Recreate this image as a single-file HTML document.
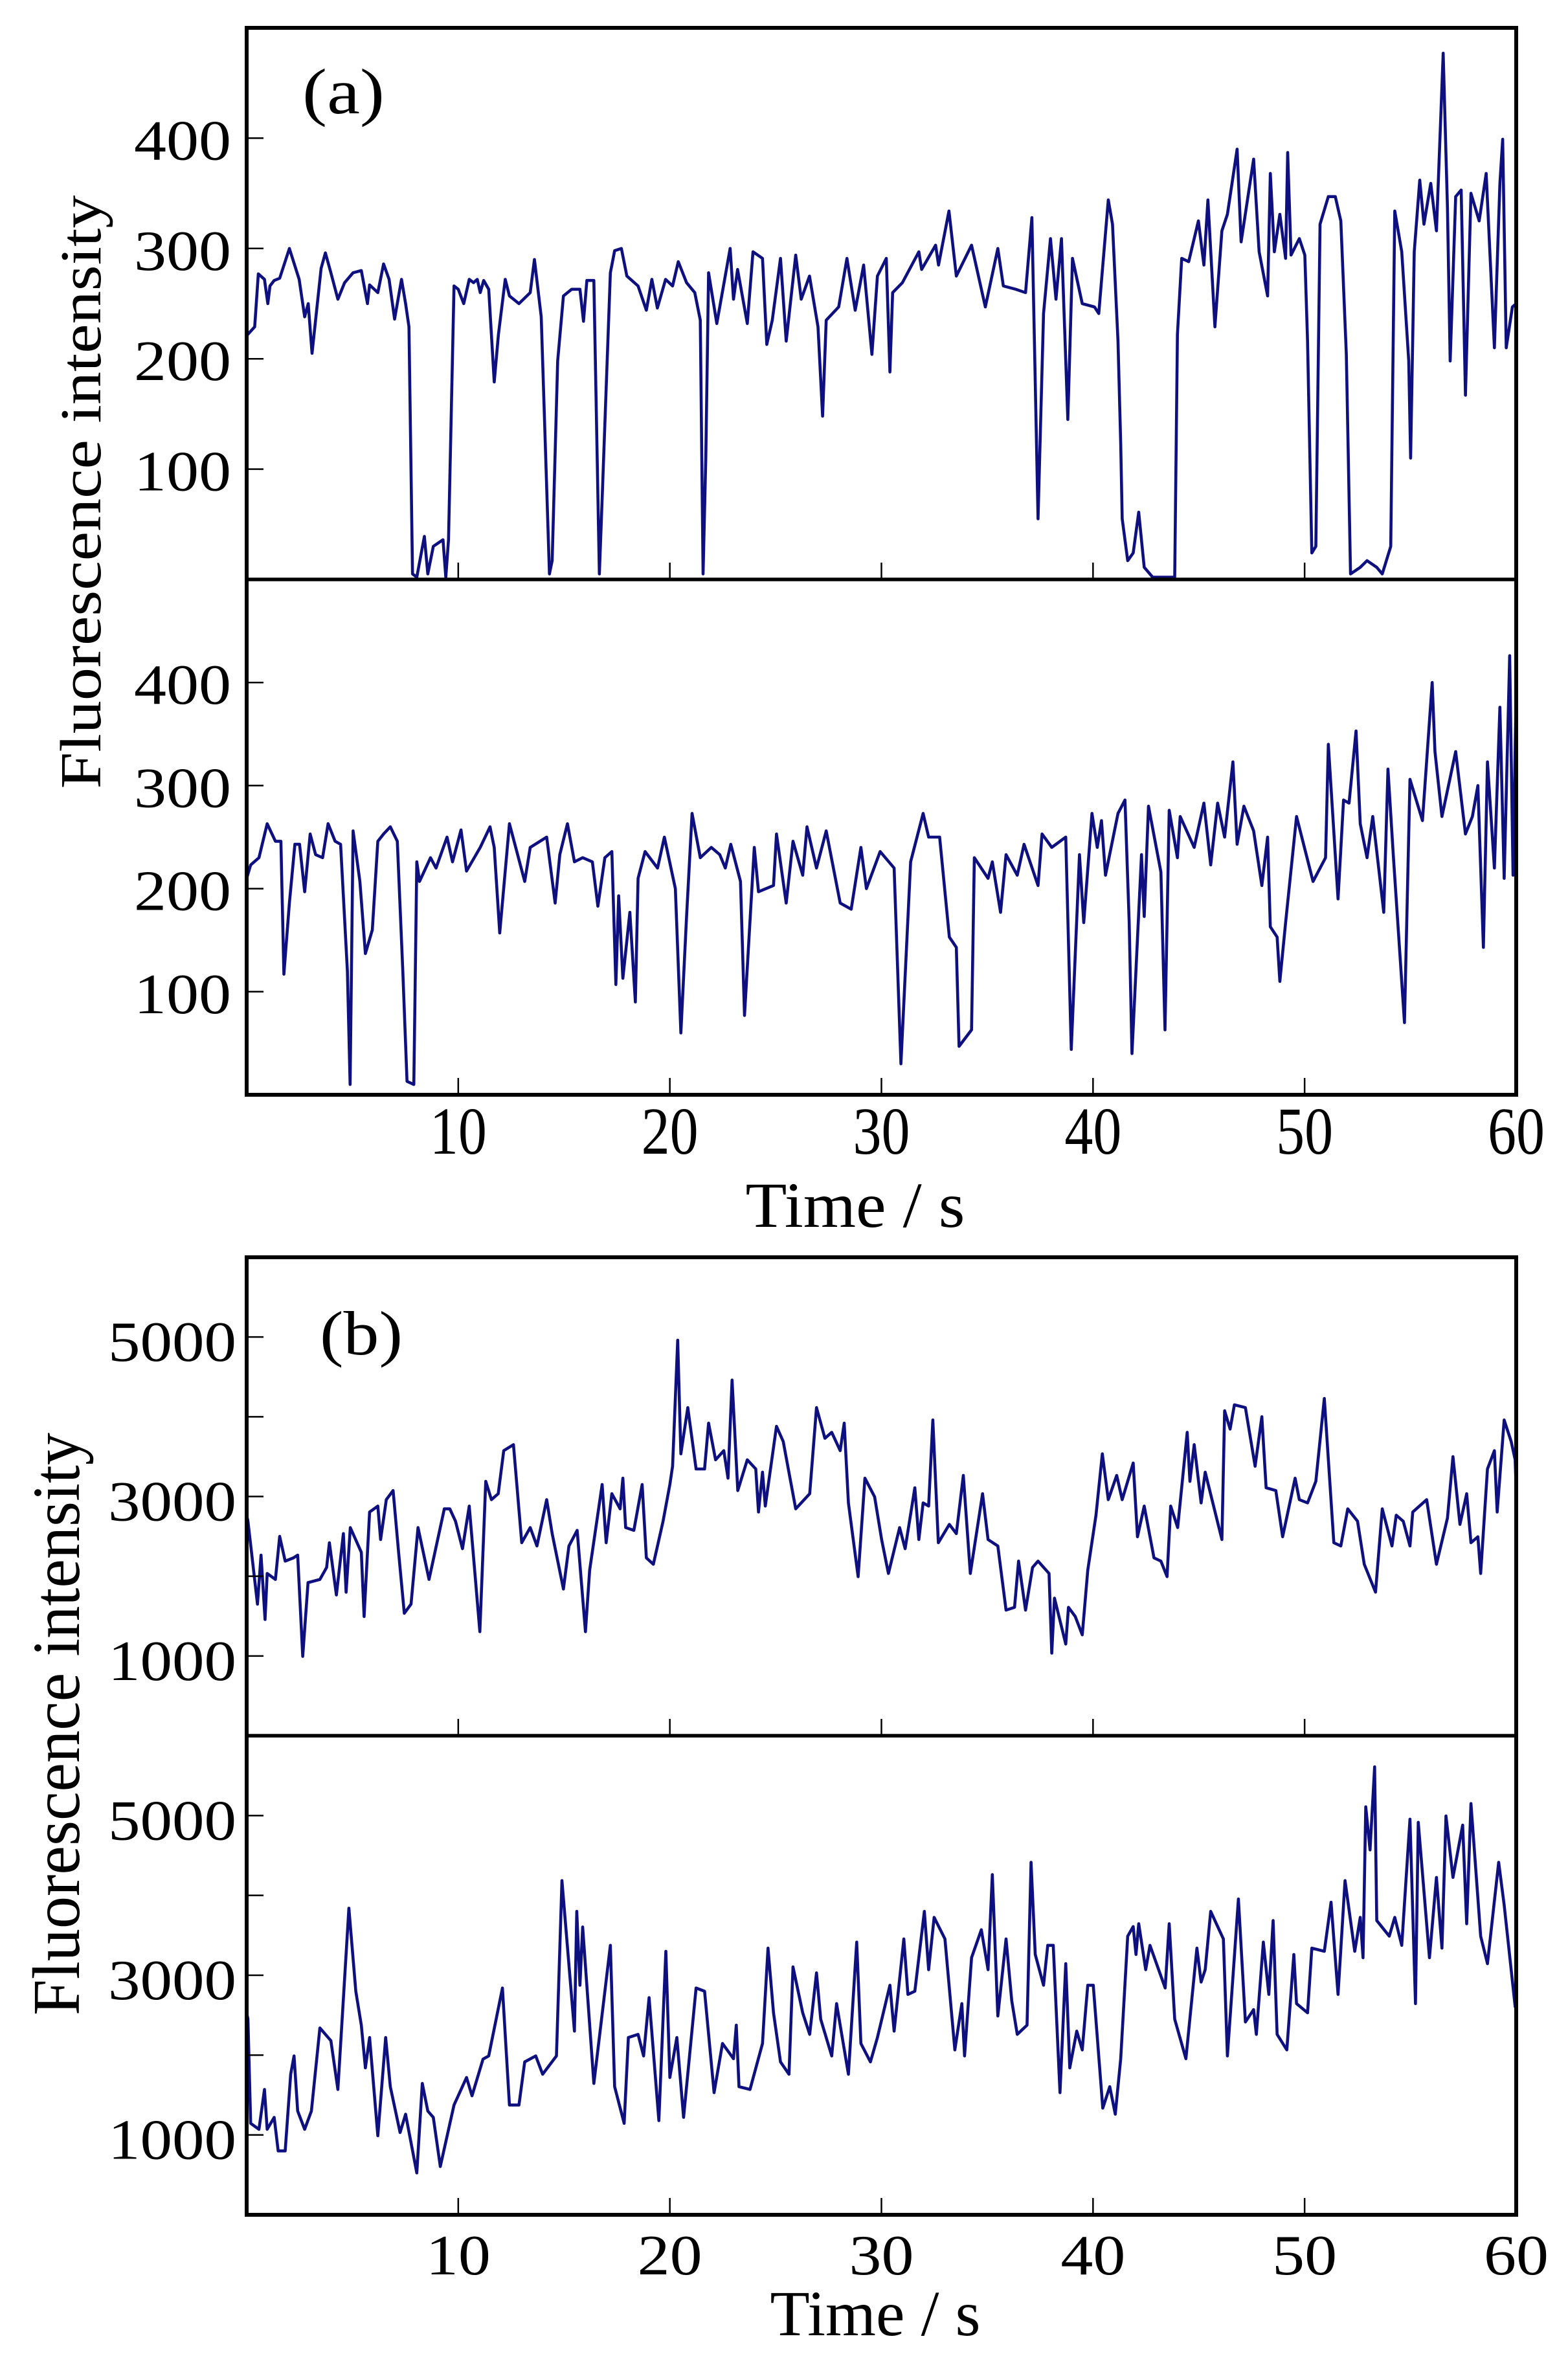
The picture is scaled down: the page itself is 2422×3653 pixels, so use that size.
<!DOCTYPE html>
<html><head><meta charset="utf-8"><style>
html,body{margin:0;padding:0;background:#fff;}
svg{display:block;font-family:"Liberation Serif",serif;}
</style></head><body>
<svg id="chart" width="2422" height="3653" viewBox="0 0 2422 3653" xmlns="http://www.w3.org/2000/svg">
<rect x="0" y="0" width="2422" height="3653" fill="#fff"/>
<g id="layer"></g>
</svg>
<script>
const xTicks = [10,20,30,40,50];
const xTickLabels = ["10","20","30","40","50","60"];
const yTicksA = [100,200,300,400];
const yTickLabelsA = ["100","200","300","400"];
const yTicksB = [1000,2000,3000,4000,5000];
const yTickLabelsB = ["1000","","3000","","5000"];

const tA1 = [0,0.38,0.55,0.84,1.0,1.1,1.3,1.56,2.02,2.48,2.74,2.91,3.09,3.52,3.72,3.98,4.31,4.63,5.03,5.42,5.71,5.81,6.2,6.47,6.73,6.99,7.32,7.51,7.67,7.84,8.04,8.4,8.56,8.82,9.28,9.41,9.54,9.8,10.0,10.26,10.52,10.72,10.9,11.04,11.2,11.44,11.7,11.9,12.22,12.42,12.87,13.4,13.6,13.92,14.31,14.44,14.7,14.97,15.36,15.75,15.92,16.08,16.41,16.67,16.8,17.19,17.39,17.71,17.97,18.5,18.89,19.15,19.41,19.8,
20.13,20.4,20.79,21.18,21.44,21.57,21.7,21.83,22.22,22.85,23.01,23.2,23.66,23.93,24.38,24.58,24.84,25.23,25.5,25.95,26.21,26.6,27.0,27.22,27.39,27.98,28.37,28.76,29.16,29.55,29.81,30.23,30.4,30.53,30.99,31.77,31.9,32.56,32.7,33.19,33.54,34.26,34.91,35.5,35.76,36.35,36.81,37.11,37.4,37.66,37.99,38.25,38.51,38.81,39.03,39.49,40.07,40.27,40.72,40.92,41.18,41.31,41.38,41.64,41.9,42.16,42.42,42.82,43.6,43.86,43.99,44.19,44.52,44.98,45.24,45.43,45.76,46.09,46.35,46.81,47.0,47.59,47.85,48.25,48.38,48.57,48.83,49.1,49.2,49.36,49.75,50.01,50.14,50.34,50.53,50.73,51.12,51.45,51.71,51.97,52.17,52.63,52.95,53.41,53.67,54.07,54.26,54.59,54.92,55.01,55.18,55.44,55.64,55.96,56.23,56.55,56.75,56.88,57.14,57.4,57.6,57.86,58.25,58.58,58.97,59.23,59.36,59.53,59.82,60];
const vA1 = [221,229,277,272,250,266,271,273,300,272,238,250,205,282,296,278,254,269,278,280,250,267,260,286,272,236,272,250,229,5,2,39,5,30,36,2,36,266,263,250,272,269,272,260,271,263,179,222,272,257,250,260,290,238,5,17,198,257,263,263,234,271,271,5,73,278,298,300,275,266,244,272,246,272,
266,288,269,260,235,5,110,278,232,300,254,281,232,297,291,213,235,291,216,294,254,275,229,148,235,247,291,244,285,204,275,291,188,260,269,297,281,303,285,334,275,303,247,300,266,263,260,328,55,241,309,254,309,145,291,250,247,241,344,322,216,123,55,17,24,61,11,2,2,2,222,291,288,325,285,344,229,316,331,390,306,381,297,257,368,297,331,291,387,294,309,294,216,24,30,322,347,347,325,204,5,11,17,11,5,30,334,297,198,110,297,362,322,359,316,477,337,198,347,353,167,350,325,368,210,359,399,210,247,250];

const tA2 = [0,0.19,0.58,0.97,1.36,1.62,1.76,2.02,2.28,2.5,2.74,3.0,3.26,3.59,3.85,4.18,4.44,4.76,4.89,5.03,5.35,5.61,5.94,6.2,6.47,6.79,7.12,7.38,7.58,7.9,8.04,8.17,8.69,8.95,9.47,9.73,10.13,10.39,11.04,11.5,11.7,11.96,12.42,13.14,13.4,14.18,14.58,14.8,15.16,15.49,15.88,16.34,16.6,16.93,17.26,17.45,17.58,17.78,18.11,18.37,18.5,18.83,19.42,19.74,
20.26,20.52,20.79,21.05,21.44,21.96,22.36,22.62,22.88,23.34,23.53,23.99,24.19,24.9,25.04,25.5,25.82,26.28,26.48,26.93,27.39,28.05,28.57,29.03,29.29,29.94,30.6,30.92,31.38,31.97,32.23,32.75,33.21,33.54,33.67,34.26,34.39,35.04,35.24,35.63,35.89,36.42,36.74,37.4,37.59,38.05,38.71,38.97,39.36,39.56,39.95,40.2,40.4,40.59,41.18,41.51,41.71,41.84,42.29,42.42,42.62,43.21,43.4,43.6,43.99,44.12,44.78,45.24,45.56,45.89,46.22,46.61,46.81,47.13,47.59,47.98,48.25,48.38,48.7,48.83,49.1,49.62,50.4,50.99,51.12,51.58,51.84,52.1,52.43,52.63,52.95,53.22,53.74,53.94,54.2,54.72,54.98,55.57,56.03,56.16,56.49,57.14,57.6,57.93,58.19,58.45,58.64,58.97,59.23,59.43,59.69,59.85,60];
const vA2 = [210,223,230,263,246,246,117,186,243,243,197,253,233,230,263,246,243,120,10,256,207,137,160,246,253,260,246,120,13,10,226,207,230,220,250,226,257,217,240,260,240,157,263,207,240,250,186,233,263,226,230,226,183,230,236,107,193,113,177,90,210,236,220,250,
200,60,173,273,230,240,233,220,243,207,77,240,197,203,253,186,246,213,260,220,256,186,180,240,200,236,220,30,226,273,250,250,153,143,47,63,230,210,226,177,233,213,243,203,253,240,250,44,233,167,273,240,266,213,273,286,167,40,233,173,280,216,63,276,230,270,240,283,223,283,250,323,243,280,256,203,250,163,153,110,167,270,207,230,340,190,286,283,353,263,230,270,177,316,230,70,306,266,400,333,270,333,253,270,300,143,323,220,376,210,426,213,393];

const tB1 = [0,0.06,0.51,0.68,0.87,0.97,1.36,1.56,1.82,2.21,2.41,2.65,2.9,3.46,3.78,3.91,4.24,4.57,4.7,4.9,5.42,5.55,5.81,6.2,6.33,6.6,6.92,7.18,7.45,7.77,8.1,8.62,9.34,9.6,9.87,10.2,10.52,11.02,11.3,11.57,11.89,12.15,12.61,13.0,13.4,13.72,14.18,14.44,14.97,15.23,15.62,16.01,16.21,16.8,16.99,17.26,17.65,17.78,17.91,18.3,18.69,18.89,19.22,19.68,20.0,20.13,20.37,20.52,20.85,21.24,21.64,21.83,22.16,22.55,22.75,22.94,23.21,23.66,24.06,24.19,24.38,24.51,25.04,25.36,25.95,26.61,26.93,27.33,27.65,28.05,28.24,28.44,28.9,29.22,29.68,30.01,30.33,30.86,31.12,31.58,31.77,31.97,32.23,32.43,32.69,33.21,33.54,33.87,34.2,34.78,35.04,35.5,35.89,36.29,36.48,36.81,37.14,37.4,37.92,38.05,38.18,38.71,38.84,39.16,39.49,39.75,40.14,40.44,40.72,41.12,41.38,41.9,42.1,42.42,42.88,43.21,43.5,43.67,44.0,44.45,44.58,44.78,45.11,45.3,46.09,46.22,46.48,46.68,47.2,47.66,47.98,48.18,48.64,48.96,49.55,49.75,50.14,50.53,50.93,51.38,51.71,52.04,52.5,52.82,53.35,53.67,54.13,54.33,54.66,54.98,55.11,55.77,56.23,56.75,57.01,57.34,57.66,57.86,58.19,58.32,58.64,58.97,59.1,59.43,59.76,59.95,60];
const vB1 = [2766,2690,1650,2265,1457,2035,1960,2500,2190,2230,2265,995,1920,1960,2110,2420,1765,2535,1800,2610,2300,1495,2805,2880,2460,2960,3075,2300,1535,1650,2610,1960,2845,2845,2690,2345,2880,1305,3190,2960,3035,3575,3650,2420,2610,2380,2960,2535,1840,2380,2575,1305,2075,3150,2420,3035,2845,3230,2610,2575,3150,2230,2150,2690,3150,3380,4960,3535,4115,3345,3345,3920,3460,3575,3230,4460,3075,3460,3345,2805,3305,2880,3880,3690,2845,3035,4115,3730,3805,3575,3920,2920,1995,3230,2995,2460,2035,2610,2345,3110,2460,2920,2880,3960,2420,2650,2535,3265,2035,3035,2460,2380,1575,1610,2190,1575,2110,2190,2035,1035,1725,1150,1610,1495,1265,2075,2765,3535,2960,3265,2960,3420,2495,2880,2230,2190,1995,2880,2610,3805,3190,3650,2920,3305,2460,4075,3845,4150,4115,3380,4000,3110,3075,2495,3230,2960,2920,3190,4230,2420,2380,2845,2690,2150,1800,2845,2380,2765,2690,2380,2805,2960,2150,2730,3500,2650,3035,2420,2495,2035,3345,3575,2805,3960,3690,3460,3075];

const tB2 = [0,0.06,0.19,0.58,0.84,0.97,1.3,1.49,1.82,2.08,2.24,2.41,2.74,3.06,3.46,3.98,4.31,4.83,5.16,5.42,5.61,5.81,6.2,6.57,6.79,7.25,7.51,8.04,8.3,8.56,8.82,9.15,9.8,10.39,10.65,11.17,11.44,12.09,12.42,12.87,13.14,13.66,13.99,14.64,14.9,15.49,15.6,15.75,15.88,16.41,17.19,17.39,17.84,18.04,18.5,18.76,19.02,19.48,19.81,20.0,20.33,20.65,21.24,21.64,22.09,22.49,23.01,23.14,23.27,23.79,24.38,24.64,24.9,25.23,25.63,25.82,26.28,26.61,26.93,27.13,27.65,27.88,28.44,28.83,29.03,29.48,29.81,30.4,30.6,31.06,31.25,31.58,32.03,32.23,32.49,33.0,33.47,33.8,33.93,34.26,34.72,35.04,35.24,35.5,35.89,36.16,36.42,36.88,37.07,37.27,37.66,37.86,38.12,38.44,38.71,38.9,39.23,39.49,39.75,40.01,40.46,40.79,41.05,41.31,41.64,41.9,42.03,42.16,42.49,42.69,43.41,43.6,43.86,44.39,44.91,45.11,45.3,45.56,46.16,46.35,46.87,47.2,47.59,47.72,48.05,48.31,48.51,48.7,49.16,49.49,49.62,50.14,50.34,50.93,51.25,51.58,51.91,52.37,52.63,52.76,52.89,53.09,53.31,53.41,54.0,54.26,54.59,54.98,55.24,55.37,55.9,56.23,56.49,56.68,57.01,57.47,57.66,57.86,58.32,58.64,59.17,59.43,59.95,60];
const vB2 = [2530,2450,1145,1070,1570,1070,1220,800,800,1760,1990,1300,1070,1300,2340,2180,1570,3840,2800,2375,1840,2220,990,2220,1605,1030,1260,525,1645,1300,1220,605,1375,1720,1490,1950,1990,2840,1375,1375,1915,1990,1760,1990,4185,2300,3800,2875,3605,1645,3375,1605,1145,2220,2260,1990,2720,1180,3300,1720,2220,1220,2840,2800,1530,2145,1955,2375,1605,1570,2145,3340,2530,1915,1760,3105,2530,2260,3030,2450,1990,2645,1760,3415,2145,1915,2220,2875,2300,3455,2760,2800,3800,3070,3725,3455,2065,2645,1990,3220,3570,3070,4260,2490,3455,2680,2260,2375,4415,3260,2875,3375,3375,1530,3145,1840,2300,2065,2875,2875,1335,1605,1260,1955,3490,3610,3260,3645,3070,3375,2840,3645,2450,1955,3340,2915,3070,3800,3455,1990,3955,2415,2570,2260,3415,2760,3685,2260,2065,3260,2645,2530,3340,3300,3915,2760,4185,3300,3725,3220,5110,4570,5610,3685,3490,3725,3375,4955,2645,4915,3220,4225,3340,4995,4225,4880,3645,5150,3490,3145,4415,3880,2605,3070];

const NS = "http://www.w3.org/2000/svg";
const layer = document.getElementById('layer');
const X0 = 381, X1 = 2342, TMAX = 60;
function xScale(t){ return X0 + (t / TMAX) * (X1 - X0); }
function mk(tag, attrs, parent){
  const el = document.createElementNS(NS, tag);
  for (const k in attrs) el.setAttribute(k, attrs[k]);
  (parent || layer).appendChild(el);
  return el;
}
const LINE = "#0f1080";

function subplot(id, yTop, yBot, vMax, ts, vs, yTicks, yLabels, lab){
  const yScale = v => yBot - (v / vMax) * (yBot - yTop);
  const g = mk('g', {});
  
  
  const cp = mk('clipPath', {id: 'clip-' + id}, g);
  mk('rect', {x: X0, y: yTop, width: X1 - X0, height: yBot - yTop}, cp);
  let d = '';
  const n = Math.min(ts.length, vs.length);
  for (let i = 0; i < n; i++) d += (i ? 'L' : 'M') + xScale(ts[i]).toFixed(1) + ',' + yScale(vs[i]).toFixed(1);
  const p = mk('path', {d: d, fill: 'none', stroke: LINE, 'stroke-width': 4.6, 'stroke-linejoin': 'round', 'clip-path': 'url(#clip-' + id + ')'}, g);
  
  
  yTicks.forEach((v, i) => {
    const y = yScale(v);
    const tk = mk('line', {x1: X0, x2: X0 + 26, y1: y, y2: y, stroke: '#000', 'stroke-width': 2.5}, g);
    
    
    if (yLabels[i]) {
      const tx = mk('text', {x: lab.yRight, y: y + lab.yBase, 'font-size': lab.yFont, 'text-anchor': 'end', textLength: lab.yLen * yLabels[i].length, lengthAdjust: 'spacingAndGlyphs', fill: '#000'}, g);
      tx.textContent = yLabels[i];
      
      
    }
  });
  xTicks.forEach(t => {
    const x = xScale(t);
    const tk = mk('line', {x1: x, x2: x, y1: yBot, y2: yBot - 26, stroke: '#000', 'stroke-width': 2.5}, g);
    
    
  });
}

const labA = {yRight: 357, yBase: 33, yFont: 88, yLen: 50};
const labB = {yRight: 365, yBase: 37, yFont: 88, yLen: 49.5};
subplot('a-top', 43, 895, 500, tA1, vA1, yTicksA, yTickLabelsA, labA);
subplot('a-bottom', 895, 1691, 500, tA2, vA2, yTicksA, yTickLabelsA, labA);
subplot('b-top', 1942, 2681, 6000, tB1, vB1, yTicksB, yTickLabelsB, labB);
subplot('b-bottom', 2681, 3421, 6000, tB2, vB2, yTicksB, yTickLabelsB, labB);

[[43, 1691, 895, 'a'], [1942, 3421, 2681, 'b']].forEach(f => {
  const r = mk('rect', {x: X0, y: f[0], width: X1 - X0, height: f[1] - f[0], fill: 'none', stroke: '#000', 'stroke-width': 6});
  
  
  const dv = mk('line', {x1: X0, x2: X1, y1: f[2], y2: f[2], stroke: '#000', 'stroke-width': 5.5});
  
  
});

xTickLabels.forEach((s, i) => {
  const t = (i + 1) * 10;
  const a = mk('text', {x: xScale(t), y: 1782, 'font-size': 104, 'text-anchor': 'middle', textLength: 88, lengthAdjust: 'spacingAndGlyphs', fill: '#000'});
  a.textContent = s;
  
  
  const b = mk('text', {x: xScale(t), y: 3513, 'font-size': 88, 'text-anchor': 'middle', textLength: 100, lengthAdjust: 'spacingAndGlyphs', fill: '#000'});
  b.textContent = s;
  
  
});
</script>
<svg style="position:absolute;left:0;top:0" width="2422" height="3653" xmlns="http://www.w3.org/2000/svg" font-family="Liberation Serif, serif">
<text x="467" y="175" font-size="100" textLength="127" lengthAdjust="spacingAndGlyphs">(a)</text>
<text x="494" y="2092" font-size="96" textLength="128" lengthAdjust="spacingAndGlyphs">(b)</text>
<text x="1321" y="1895" font-size="100" text-anchor="middle" textLength="339" lengthAdjust="spacingAndGlyphs">Time / s</text>
<text x="1352" y="3607" font-size="100" text-anchor="middle" textLength="325" lengthAdjust="spacingAndGlyphs">Time / s</text>
<text transform="translate(155,760) rotate(-90)" x="0" y="0" font-size="90" text-anchor="middle" textLength="917" lengthAdjust="spacingAndGlyphs">Fluorescence intensity</text>
<text transform="translate(122,2663) rotate(-90)" x="0" y="0" font-size="104" text-anchor="middle" textLength="900" lengthAdjust="spacingAndGlyphs">Fluorescence intensity</text>
</svg>
</body></html>
